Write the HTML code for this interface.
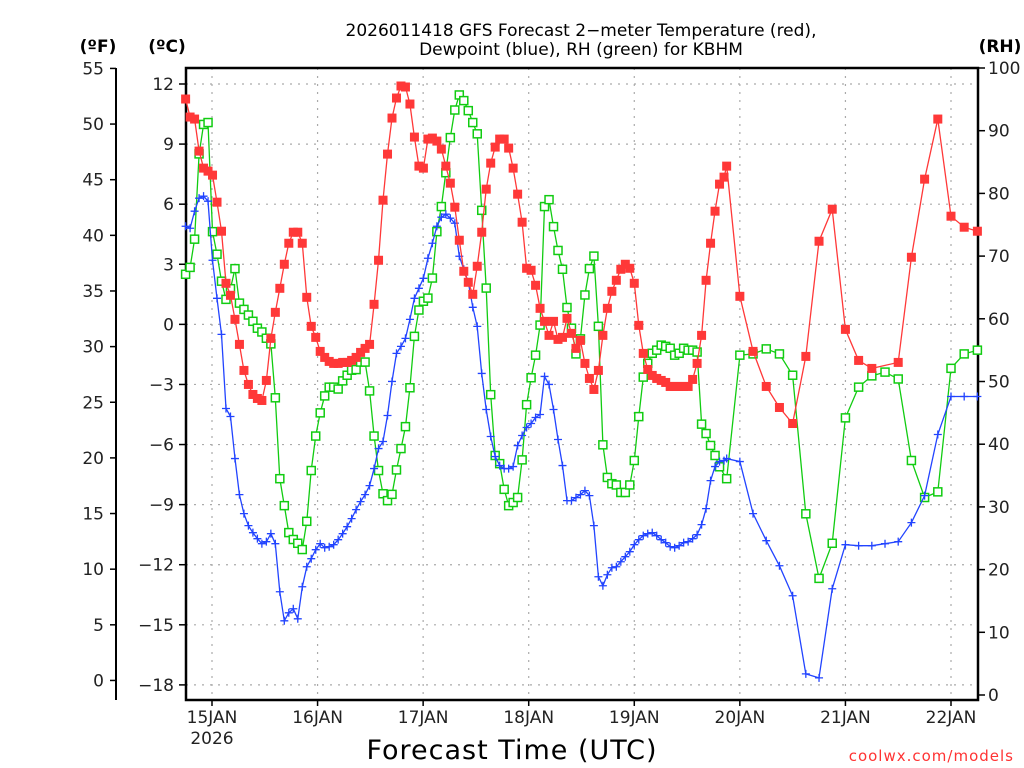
<!DOCTYPE html>
<html><head><meta charset="utf-8"><style>
html,body{margin:0;padding:0;background:#fff;}
svg{display:block;font-family:"DejaVu Sans","Liberation Sans",sans-serif;}
</style></head><body>
<svg id="chart" width="1024" height="768" viewBox="0 0 1024 768" xmlns="http://www.w3.org/2000/svg">
<g id="grid"></g>
<g id="axes"></g>
<g id="series"></g>
<text x="581" y="36" font-size="17" text-anchor="middle" fill="#000">2026011418 GFS Forecast 2−meter Temperature (red),</text>
<text x="581" y="55" font-size="17" text-anchor="middle" fill="#000">Dewpoint (blue), RH (green) for KBHM</text>
<text x="98" y="52" font-size="17" font-weight="bold" text-anchor="middle">(ºF)</text>
<text x="167" y="52" font-size="17" font-weight="bold" text-anchor="middle">(ºC)</text>
<text x="1000" y="52" font-size="17" font-weight="bold" text-anchor="middle">(RH)</text>
<text x="512" y="759" font-size="27" text-anchor="middle" letter-spacing="1">Forecast Time (UTC)</text>
<text x="1014" y="761" font-size="15" text-anchor="end" fill="#ff3333" letter-spacing="1">coolwx.com/models</text>
</svg>
<script>
// ---- data ----
const dayLabels = ["15JAN","16JAN","17JAN","18JAN","19JAN","20JAN","21JAN","22JAN"];
const dayHours = [6,30,54,78,102,126,150,174];
const celsiusTicks = [12,9,6,3,0,-3,-6,-9,-12,-15,-18];
const fahrenheitTicks = [55,50,45,40,35,30,25,20,15,10,5,0];
const rhTicks = [100,90,80,70,60,50,40,30,20,10,0];

const tempDense = [11.25,10.35,10.25,8.65,7.8,7.65,7.45,6.1,4.65,2.05,1.45,0.25,-1,-2.3,-3,-3.5,-3.7,-3.8,-2.8,-0.7,0.6,1.8,3,4.05,4.6,4.6,4.05,1.35,-0.1,-0.65,-1.35,-1.65,-1.85,-1.95,-1.95,-1.9,-1.9,-1.8,-1.65,-1.4,-1.2,-1.0,1,3.2,6.2,8.5,10.3,11.3,11.9,11.85,11,9.35,7.9,7.8,9.25,9.3,9.15,8.75,7.9,7.05,5.85,4.2,2.65,2.1,1.5,2.9,4.6,6.75,8.05,8.85,9.25,9.25,8.8,7.8,6.5,5.1,2.8,2.7,1.95,0.8,0.15,-0.55,0.15,-0.75,-0.65,0.3,-0.45,-1.2,-0.8,-1.95,-2.7,-3.25,-2.3,-0.55,0.8,1.65,2.2,2.75,3,2.8,2.05,-0.05,-1.45,-2.25,-2.55,-2.7,-2.8,-2.9,-3.1,-3.1,-3.1,-3.1,-3.1,-2.75,-1.95,-0.55,2.2,4.05,5.65,7,7.35];
const tempSparseHours = [123,126,129,132,135,138,141,144,147,150,153,156,162,165,168,171,174,177,180];
const tempSparse = [7.9,1.4,-1.35,-3.1,-4.15,-4.95,-1.6,4.15,5.75,-0.25,-1.8,-2.2,-1.9,3.35,7.25,10.25,5.4,4.85,4.65];

const dewDense = [4.9,4.8,5.65,6.3,6.4,6.15,3.2,1.3,-0.5,-4.2,-4.6,-6.7,-8.5,-9.45,-10.05,-10.4,-10.7,-10.95,-10.85,-10.45,-10.95,-13.35,-14.8,-14.4,-14.2,-14.7,-13.1,-12.1,-11.7,-11.25,-10.95,-11.15,-11.1,-11.0,-10.75,-10.45,-10.1,-9.7,-9.25,-8.85,-8.5,-8.05,-7.2,-6.2,-5.85,-4.55,-2.85,-1.45,-1.1,-0.7,0.25,1.3,1.8,2.3,3.3,4.05,4.9,5.35,5.5,5.3,5.05,3.4,2.75,2.1,0.85,-0.1,-2.45,-4.25,-5.6,-6.6,-7.05,-7.2,-7.2,-7.1,-6.05,-5.55,-5.15,-4.95,-4.65,-4.5,-2.6,-3,-4.25,-5.75,-7.05,-8.8,-8.8,-8.65,-8.5,-8.3,-8.55,-10.05,-12.6,-13.05,-12.5,-12.15,-12.1,-11.85,-11.6,-11.35,-11,-10.75,-10.55,-10.45,-10.4,-10.55,-10.75,-10.9,-11.1,-11.15,-11.05,-10.9,-10.85,-10.7,-10.5,-10,-9.2,-7.8,-7.1,-6.85,-6.8];
const dewSparseHours = [123,126,129,132,135,138,141,144,147,150,153,156,159,162,165,168,171,174,177,180];
const dewSparse = [-6.7,-6.85,-9.45,-10.8,-12.05,-13.55,-17.45,-17.65,-13.2,-11,-11.05,-11.05,-10.95,-10.85,-9.9,-8.55,-5.5,-3.6,-3.6,-3.6];

const rhDense = [67.1,68.2,72.7,86.3,91,91.3,73.9,70.3,66,63.1,64.8,68,62.5,61.5,60.6,59.6,58.5,57.9,56.9,56,47.4,34.5,30.2,25.9,24.8,24.2,23.2,27.7,35.8,41.3,45,47.7,49.1,49.1,48.8,50.1,51,51.8,51.9,53.1,53.1,48.5,41.3,35.8,32.1,31,32,35.9,39.3,42.8,49,57.2,61.4,62.8,63.3,66.5,73.9,77.9,83.3,88.9,93.3,95.7,94.8,93.2,91.3,89.5,77.3,64.9,47.9,38.2,36.9,32.8,30.2,30.7,31.5,37.5,46.3,50.6,54.2,59,77.9,79,74.7,70.9,67.9,61.8,58.5,54.4,56.8,63.8,68,70,58.8,39.9,34.7,33.7,33.5,32.3,32.3,33.5,37.4,44.4,50.7,52.9,54.5,55,55.8,55.6,55.3,54.2,54.5,55.3,55,55,54.7,43.2,41.7,39.8,38.2,36.4];
const rhSparseHours = [123,126,129,132,135,138,141,144,147,150,153,156,159,162,165,168,171,174,177,180];
const rhSparse = [34.5,54.2,54.4,55.2,54.4,51,28.9,18.6,24.2,44.2,49.1,50.9,51.5,50.4,37.4,31.5,32.4,52.1,54.4,55];

// ---- scales ----
const X0=212, PXH=(951-212)/168, DENSE_STEP=1.02;
function xs(h){return X0+(h-6)*PXH;}
function yc(c){return 84+(12-c)*20.03;}
function yf(f){return yc((f-32)*5/9);}
function yr(r){return 695-r*6.27;}
const L=186,R=978,T=68,B=700;
const NS="http://www.w3.org/2000/svg";
function mk(tag,attrs,parent){const e=document.createElementNS(NS,tag);for(const k in attrs)e.setAttribute(k,attrs[k]);parent.appendChild(e);return e;}
const grid=document.getElementById('grid'),axes=document.getElementById('axes'),series=document.getElementById('series');

celsiusTicks.forEach(c=>{const l=mk('line',{x1:L,x2:R,y1:yc(c),y2:yc(c),stroke:'#aaa','stroke-width':1.2,'stroke-dasharray':'2,6'},grid);

});
dayHours.forEach(h=>{const l=mk('line',{x1:xs(h),x2:xs(h),y1:T,y2:B,stroke:'#aaa','stroke-width':1.2,'stroke-dasharray':'2,6'},grid);

});

const fr=mk('rect',{x:L,y:T,width:R-L,height:B-T,fill:'none',stroke:'#000','stroke-width':2.5},axes);


const fa=mk('line',{x1:116,x2:116,y1:68,y2:700,stroke:'#000','stroke-width':2},axes);



celsiusTicks.forEach(c=>{mk('line',{x1:L-7,x2:L,y1:yc(c),y2:yc(c),stroke:'#000','stroke-width':1.5},axes);
const t=mk('text',{x:L-12,y:yc(c)+6,'font-size':17,'text-anchor':'end',fill:'#222'},axes);t.textContent=(c<0?'\u2212'+(-c):c);

});
fahrenheitTicks.forEach(f=>{mk('line',{x1:110,x2:116,y1:yf(f),y2:yf(f),stroke:'#000','stroke-width':1.5},axes);
const t=mk('text',{x:104,y:yf(f)+6,'font-size':17,'text-anchor':'end',fill:'#222'},axes);t.textContent=f;

});
rhTicks.forEach(r=>{mk('line',{x1:R,x2:R+7,y1:yr(r),y2:yr(r),stroke:'#000','stroke-width':1.5},axes);
const t=mk('text',{x:R+10,y:yr(r)+6,'font-size':17,'text-anchor':'start',fill:'#222'},axes);t.textContent=r;

});
dayHours.forEach((h,i)=>{mk('line',{x1:xs(h),x2:xs(h),y1:B,y2:B+6,stroke:'#000','stroke-width':1.5},axes);
const t=mk('text',{x:xs(h),y:723,'font-size':17,'text-anchor':'middle',fill:'#222'},axes);t.textContent=dayLabels[i];

});
const yr2026=mk('text',{x:xs(6),y:744,'font-size':17,'text-anchor':'middle',fill:'#222'},axes);yr2026.textContent='2026';



function pts(dense,sh,sv){const p=[];dense.forEach((v,i)=>p.push([i*DENSE_STEP,v]));sh.forEach((h,i)=>p.push([h,sv[i]]));return p;}
function drawSeries(p,yfn,color,kind,name){
  const g=mk('g',{},series);
  
  
  const d=p.map((q,i)=>(i?'L':'M')+xs(q[0]).toFixed(1)+','+yfn(q[1]).toFixed(1)).join('');
  const ln=mk('path',{d:d,fill:'none',stroke:color,'stroke-width':1.3},g);
  
  
  p.forEach(q=>{const x=xs(q[0]),y=yfn(q[1]);let m;
    if(kind==='fill'){m=mk('rect',{x:x-4.5,y:y-4.5,width:9,height:9,fill:color},g);}
    else if(kind==='open'){m=mk('rect',{x:x-4,y:y-4,width:8,height:8,fill:'#fff',stroke:color,'stroke-width':1.5},g);}
    else{m=mk('path',{d:`M${x-4},${y}H${x+4}M${x},${y-4}V${y+4}`,stroke:color,'stroke-width':1.3},g);}
    
    });
}
drawSeries(pts(rhDense,rhSparseHours,rhSparse),yr,'#11cc11','open','rh-series');
drawSeries(pts(dewDense,dewSparseHours,dewSparse),yc,'#2244ff','plus','dewpoint-series');
drawSeries(pts(tempDense,tempSparseHours,tempSparse),yc,'#ff3838','fill','temperature-series');
</script>
</body></html>
